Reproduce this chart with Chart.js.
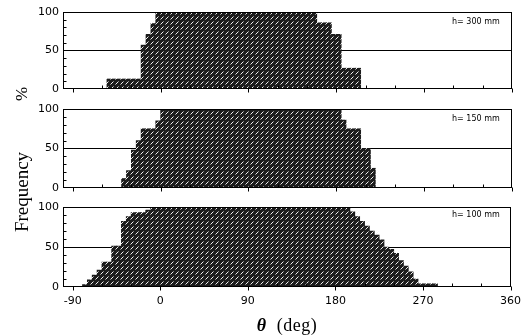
<!DOCTYPE html>
<html><head><meta charset="utf-8">
<script src="https://cdn.jsdelivr.net/npm/chart.js@4.4.1/dist/chart.umd.min.js"></script>
<style>
html,body{margin:0;padding:0;background:#fff;}
#wrap{position:relative;width:529px;height:336px;overflow:hidden;background:#fff;}
canvas{position:absolute;left:0;top:0;}
.serif{position:absolute;font-family:"Liberation Serif","Times New Roman",serif;color:#000;white-space:nowrap;line-height:1;}
.hl{position:absolute;font-family:"DejaVu Sans",sans-serif;font-size:8px;color:#000;white-space:nowrap;line-height:1;}
</style></head><body>
<div id="wrap">
<canvas id="c1" width="529" height="336"></canvas>
<canvas id="c2" width="529" height="336"></canvas>
<canvas id="c3" width="529" height="336"></canvas>
<div class="hl" style="left:452px;top:18px;">h= 300 mm</div>
<div class="hl" style="left:452px;top:115px;">h= 150 mm</div>
<div class="hl" style="left:452px;top:211px;">h= 100 mm</div>
<div class="serif" style="left:21px;top:192px;font-size:19px;transform:translate(-50%,-50%) rotate(-90deg);">Frequency</div>
<div class="serif" style="left:21px;top:94px;font-size:17px;transform:translate(-50%,-50%) rotate(-90deg);">%</div>
<div class="serif" style="left:287px;top:325px;font-size:18px;transform:translate(-50%,-50%);letter-spacing:0.5px;"><span style="font-style:italic;font-weight:bold;">θ</span>&nbsp;&nbsp;(deg)</div>
</div>
<script>
// ---- axis ticks ----
const xTickLabels = [-90, 0, 90, 180, 270, 360];
const xMinorTicks = [-60, -30, 30, 60, 120, 150, 210, 240, 300, 330];
const yTickLabels = [0, 50, 100];
const yMinorTicks = [10, 20, 30, 40, 60, 70, 80, 90];
const panelNames = ["h= 300 mm", "h= 150 mm", "h= 100 mm"];

// ---- h = 300 mm : 5-degree bins (left edge, deg) and frequency (%) ----
const bins300 = [-55,-50,-45,-40,-35,-30,-25,-20,-15,-10,-5,0,5,10,15,20,25,30,35,40,45,50,55,60,65,70,75,80,85,90,95,100,105,110,115,120,125,130,135,140,145,150,155,160,165,170,175,180,185,190,195,200];
const freq300 = [13,13,13,13,13,13,13,57,71,85,100,100,100,100,100,100,100,100,100,100,100,100,100,100,100,100,100,100,100,100,100,100,100,100,100,100,100,100,100,100,100,100,100,86,86,86,71,71,27,27,27,27];

// ---- h = 150 mm ----
const bins150 = [-40,-35,-30,-25,-20,-15,-10,-5,0,5,10,15,20,25,30,35,40,45,50,55,60,65,70,75,80,85,90,95,100,105,110,115,120,125,130,135,140,145,150,155,160,165,170,175,180,185,190,195,200,205,210,215];
const freq150 = [12,22,48,60,75,75,75,85,100,100,100,100,100,100,100,100,100,100,100,100,100,100,100,100,100,100,100,100,100,100,100,100,100,100,100,100,100,100,100,100,100,100,100,100,100,86,75,75,75,50,50,25];

// ---- h = 100 mm ----
const bins100 = [-80,-75,-70,-65,-60,-55,-50,-45,-40,-35,-30,-25,-20,-15,-10,-5,0,5,10,15,20,25,30,35,40,45,50,55,60,65,70,75,80,85,90,95,100,105,110,115,120,125,130,135,140,145,150,155,160,165,170,175,180,185,190,195,200,205,210,215,220,225,230,235,240,245,250,255,260,265,270,275,280];
const freq100 = [3,9,15,21,31,31,51,51,82,88,93,93,93,96,100,100,100,100,100,100,100,100,100,100,100,100,100,100,100,100,100,100,100,100,100,100,100,100,100,100,100,100,100,100,100,100,100,100,100,100,100,100,100,100,100,94,88,82,76,70,65,59,50,47,42,33,26,19,10,4,4,4,4];

const BIN_W = 5;
const X_MIN = -100, X_MAX = 360;
const TICK_FONT = {family: '"DejaVu Sans", sans-serif', size: 11};

function makeHatch(ctx) {
  const c = document.createElement('canvas');
  c.width = 5; c.height = 5;
  const g = c.getContext('2d');
  g.fillStyle = '#1c1c1c'; g.fillRect(0, 0, 5, 5);
  g.fillStyle = '#8a8a8a'; g.fillRect(0, 4, 1, 1); g.fillRect(3, 1, 1, 1);
  g.fillStyle = '#f0f0f0'; g.fillRect(1, 3, 1, 1); g.fillRect(2, 2, 1, 1);
  return ctx.createPattern(c, 'repeat');
}

const framePlugin = {
  id: 'frame',
  afterDatasetsDraw(chart) {
    const {ctx, chartArea: a, scales: {x, y}} = chart;
    ctx.save();
    ctx.strokeStyle = '#000';
    ctx.lineWidth = 1;
    const L = Math.round(a.left) + 0.5, R = Math.round(a.right) - 0.5;
    const T = Math.round(a.top) + 0.5, B = Math.round(a.bottom) - 0.5;
    ctx.strokeRect(L, T, R - L, B - T);
    ctx.beginPath();
    xTickLabels.forEach(v => {
      const px = Math.round(x.getPixelForValue(v)) + 0.5;
      ctx.moveTo(px, B); ctx.lineTo(px, B + 4);
    });
    xMinorTicks.forEach(v => {
      const px = Math.round(x.getPixelForValue(v)) + 0.5;
      ctx.moveTo(px, B); ctx.lineTo(px, B - 3);
    });
    yMinorTicks.forEach(v => {
      const py = Math.round(y.getPixelForValue(v)) + 0.5;
      ctx.moveTo(L, py); ctx.lineTo(L + 3, py);
    });
    ctx.stroke();
    ctx.restore();
  }
};

function makePanel(id, bins, freq, top, bottom, showX) {
  const canvas = document.getElementById(id);
  const ctx = canvas.getContext('2d');
  const XH = 30;
  return new Chart(canvas, {
    type: 'bar',
    data: {
      datasets: [{
        data: bins.map((b, i) => ({x: b + BIN_W / 2, y: freq[i]})),
        backgroundColor: makeHatch(ctx),
        borderWidth: 0,
        barPercentage: 1,
        categoryPercentage: 1
      }]
    },
    options: {
      responsive: false,
      animation: false,
      events: [],
      layout: {padding: {top: top, bottom: 336 - bottom - (showX ? XH : 0), left: 0, right: 17}},
      plugins: {legend: {display: false}, tooltip: {enabled: false}, title: {display: false}},
      scales: {
        x: {
          type: 'linear', min: X_MIN, max: X_MAX, offset: false, display: showX,
          grid: {display: false, drawTicks: false, offset: false},
          border: {display: false},
          afterBuildTicks: s => { s.ticks = xTickLabels.map(v => ({value: v})); },
          afterFit: s => { s.height = showX ? XH : 0; },
          ticks: {font: TICK_FONT, color: '#000', padding: 8, maxRotation: 0, autoSkip: false}
        },
        y: {
          min: 0, max: 100,
          afterBuildTicks: s => { s.ticks = yTickLabels.map(v => ({value: v})); },
          afterFit: s => { s.width = 63; },
          grid: {drawTicks: false, color: c => (c.tick && c.tick.value === 50) ? '#000' : 'rgba(0,0,0,0)', lineWidth: 1},
          border: {display: false},
          ticks: {font: TICK_FONT, color: '#000', padding: 4}
        }
      }
    },
    plugins: [framePlugin]
  });
}

makePanel('c1', bins300, freq300, 12, 89, false);
makePanel('c2', bins150, freq150, 109, 188, false);
makePanel('c3', bins100, freq100, 207, 287, true);
</script>
</body></html>
